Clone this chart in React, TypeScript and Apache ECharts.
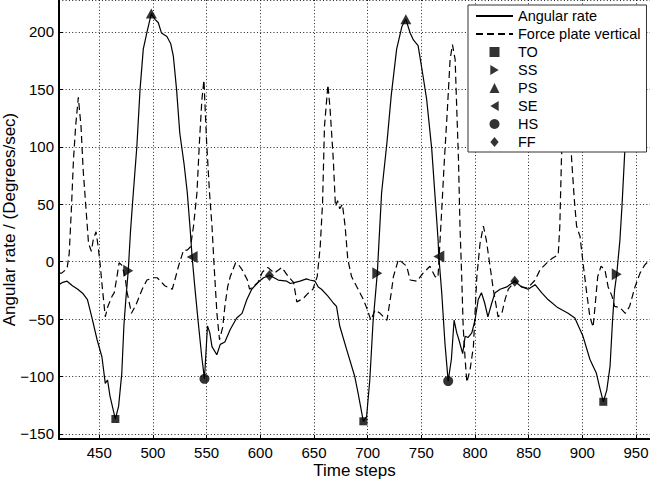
import React, { useEffect, useRef } from "react";
import * as echarts from "echarts";

const FONT = "'Liberation Sans', Arial, Helvetica, sans-serif";

const xRange = [412.5, 963];
const yRange = [-154.4, 227.8];

const angularRate: number[][] = [
  [412.5, -20], [416, -18], [420, -17], [425, -21], [430, -24], [435, -28], [439, -33],
  [443, -48], [448, -68], [452.5, -83], [455.6, -106], [457.7, -103], [460, -117],
  [465, -137], [468, -126], [471, -97], [473, -55], [475, -30], [477, -8], [479, 25],
  [481, 51], [485, 100], [488, 150], [491, 185], [494.5, 200], [498.5, 216], [502, 211],
  [505, 208], [508, 199], [513, 196], [516.5, 190], [519, 179], [522, 150], [525, 112],
  [529, 85], [532, 60], [534.7, 28], [536.5, 4], [539, -22], [542, -51], [545.5, -83],
  [548, -102], [550.8, -56], [553, -62], [555, -74], [559.5, -81], [562.7, -72],
  [567, -70], [572, -59], [578, -49], [583, -45], [587.5, -33], [592, -24], [598, -18],
  [603, -14], [609, -12], [616.7, -16], [624.7, -17], [628, -19], [632.5, -18],
  [637, -17], [643, -15], [646, -16], [651, -17], [654, -22], [657, -24], [663, -30],
  [668, -36], [671, -39], [674, -56], [680.6, -77], [688, -100], [691, -114],
  [694.6, -132], [696, -139], [699, -135], [702, -103], [705, -53], [709, -10],
  [713, 60], [718, 104], [722, 145], [727, 185], [732, 205], [735.6, 211], [739.6, 199],
  [742.6, 193], [747, 188], [751.7, 161], [755, 141], [759.7, 98], [763, 54],
  [765.6, 19], [766.3, 4.5], [769, -27], [772, -71], [775, -104], [778, -85],
  [780.5, -51], [783, -62], [785, -68], [788.5, -80], [790.8, -65], [793.6, -66],
  [797, -62], [800, -51], [803, -33], [806, -27], [809, -36], [812, -48], [815.6, -36],
  [818.7, -27], [823.4, -24], [829.6, -22], [834, -19], [837, -17], [843.5, -22],
  [849.5, -24], [856, -20], [862, -27], [868, -33], [877, -40], [886.7, -45], [893, -49],
  [900.6, -65], [907, -85], [910, -91], [913, -97], [916, -109], [919.5, -122],
  [922.7, -112], [925.8, -91], [928, -53], [930, -25], [932, -11], [935, 19], [937, 50],
  [940, 105], [943, 160], [946, 200], [950, 215],
];

const forcePlate: number[][] = [
  [412.5, -10], [415, -10], [420, -6], [422, 7], [424, 45], [426, 89], [428, 118],
  [430.5, 143], [433, 118], [435, 80], [437.5, 48], [440, 16], [442.6, 9], [444.4, 19],
  [447, 26], [449, 13], [451, -4], [452.8, -22], [455.6, -48], [458, -39], [462, -30],
  [464, -27], [467, -10], [468.5, -1], [471, -3], [474, -13], [476, -27], [480, -45],
  [484, -38], [490, -24], [494.4, -16], [500.6, -14], [504, -14], [507, -17], [511, -21],
  [518, -24], [521, -14], [523.8, -4], [528.5, 10], [532, 10], [535, 13], [537.8, 31],
  [541, 60], [543.3, 104], [545.6, 141], [547.5, 158], [550, 104], [552.7, 60], [555, 31],
  [557, -4], [559.6, -45], [562, -68], [565, -57], [567, -39], [569.6, -22], [572, -13],
  [577, -1], [580, -3], [583, -7], [588, -16], [590, -24], [593, -22], [598, -18],
  [602, -9], [607, -5], [613, -10], [620, -5], [626, -13], [631, -18], [634, -35],
  [640, -32], [644, -28], [649, -24], [653, -13], [655.8, 13], [658, 51], [659.8, 118],
  [663, 154], [665, 133], [668, 89], [670, 48], [672, 53], [674, 46], [676.5, 50],
  [679, 31], [681.5, 2], [685, -13], [690, -22], [696, -33], [699, -40], [703, -51],
  [707, -42], [711.6, -45], [718, -51], [722, -27], [724, -13], [728.7, 2], [736.4, -4],
  [739.6, -16], [745.8, -17], [751.7, -10], [758, -4], [762.8, -13], [765.5, -14],
  [769, 45], [771.5, 89], [774.3, 133], [776.8, 176], [779, 189], [781.5, 176],
  [783, 133], [784.6, 89], [786, 31], [787.6, -13], [789, -57], [790.8, -85],
  [792.4, -105], [795.4, -94], [798.5, -74], [800, -45], [801.7, -13], [804.7, 16],
  [807.8, 31], [810.5, 19], [814, -4], [817, -24], [821.5, -48], [825, -45], [828, -33],
  [831, -24], [834.5, -20], [837, -16], [843.5, -22], [849, -23], [856, -16],
  [860.6, -7], [867, -1], [872, 3], [877.5, 6], [879, 31], [880.5, 89], [882.5, 130],
  [885, 160], [888, 130], [890, 89], [892.5, 54], [894.6, 31], [897.8, 22], [901, -4],
  [904, -27], [907, -48], [910, -57], [911.8, -39], [914.3, -13], [917.4, -4], [921, -7],
  [924, -22], [927.6, -30], [930, -39], [935, -40], [940, -45], [944, -39], [949, -22],
  [953.7, -10], [958, -3], [961, 0], [963, 2],
];

const eventTO: number[][] = [[465, -137], [696, -139], [919.5, -122]];
const eventSS: number[][] = [[477, -8], [709, -10], [932, -11]];
const eventPS: number[][] = [[498.5, 216], [735.6, 211]];
const eventSE: number[][] = [[536.5, 4], [766.3, 4.5]];
const eventHS: number[][] = [[548, -102], [775, -104]];
const eventFF: number[][] = [[608.5, -12], [837, -17]];

const lineNames = ["Angular rate", "Force plate vertical"];
const eventNames = ["TO", "SS", "PS", "SE", "HS", "FF"];

const SQUARE = "path://M0,0H10V10H0Z";
const TRI_RIGHT = "path://M0,0L10,6L0,12Z";
const TRI_UP = "path://M5,0L10,10L0,10Z";
const TRI_LEFT = "path://M10,0L0,6L10,12Z";
const DIAMOND = "path://M5,0L10,6L5,12L0,6Z";

export default function App() {
  const ref = useRef<HTMLDivElement>(null);
  useEffect(() => {
    if (!ref.current) return;
    const chart = echarts.init(ref.current, null, { renderer: "svg" });
    const gridLine = { show: true, lineStyle: { color: "#222", width: 1, type: [1, 2.3] as any } };
    const scatter = (name: string, data: number[][], symbol: string, size: any) => ({
      name,
      type: "scatter",
      data,
      symbol,
      symbolSize: size,
      itemStyle: { color: "#000" },
      z: 5,
      silent: true,
    });
    chart.setOption({
      animation: false,
      backgroundColor: "#fff",
      textStyle: { fontFamily: FONT },
      grid: { left: 59, right: 0, top: 0, bottom: 40, containLabel: false, outerBoundsMode: "none" },
      xAxis: {
        type: "value",
        min: xRange[0],
        max: xRange[1],
        splitNumber: 11,
        name: "Time steps",
        nameLocation: "middle",
        nameGap: 23,
        nameMoveOverlap: false,
        nameTextStyle: { fontSize: 17, color: "#000", fontFamily: FONT },
        axisLine: { show: true, onZero: false, lineStyle: { color: "#000", width: 2 } },
        axisTick: { show: true, inside: true, length: 4, lineStyle: { color: "#000", width: 1 } },
        axisLabel: {
          fontSize: 15, color: "#000", fontFamily: FONT, margin: 6,
          showMinLabel: false, showMaxLabel: false,
        },
        splitLine: gridLine,
      },
      yAxis: {
        type: "value",
        min: yRange[0],
        max: yRange[1],
        splitNumber: 8,
        name: "Angular rate / (Degrees/sec)",
        nameLocation: "middle",
        nameGap: 41,
        nameMoveOverlap: false,
        nameTextStyle: { fontSize: 17, color: "#000", fontFamily: FONT },
        axisLine: { show: true, onZero: false, lineStyle: { color: "#000", width: 2 } },
        axisTick: { show: true, inside: true, length: 4, lineStyle: { color: "#000", width: 1 } },
        axisLabel: {
          fontSize: 15, color: "#000", fontFamily: FONT, margin: 5,
          showMinLabel: false, showMaxLabel: false,
          formatter: (v: number) => String(Math.round(v)).replace("-", "\u2212"),
        },
        splitLine: gridLine,
      },
      legend: {
        orient: "vertical",
        left: 468,
        top: 5,
        align: "left",
        itemWidth: 37,
        itemHeight: 10,
        itemGap: 0,
        padding: [2, 6, 1, 7],
        backgroundColor: "#fff",
        borderColor: "#333",
        borderWidth: 1,
        borderRadius: 0,
        selectedMode: false,
        z: 10,
        textStyle: { fontSize: 14.5, color: "#000", fontFamily: FONT, lineHeight: 18 },
        data: [
          ...lineNames.map((n) => ({ name: n, itemStyle: { color: "rgba(0,0,0,0)", borderWidth: 0, opacity: 0 } })),
          ...eventNames,
        ],
      },
      series: [
        {
          name: lineNames[0],
          type: "line",
          data: angularRate,
          symbol: "none",
          showSymbol: false,
          lineStyle: { color: "#000", width: 1.2, type: "solid" },
          itemStyle: { color: "#000" },
          z: 3,
          silent: true,
        },
        {
          name: lineNames[1],
          type: "line",
          data: forcePlate,
          symbol: "none",
          showSymbol: false,
          lineStyle: { color: "#000", width: 1.2, type: [7, 4] },
          itemStyle: { color: "#000" },
          z: 3,
          silent: true,
        },
        scatter("TO", eventTO, SQUARE, [8, 8]),
        scatter("SS", eventSS, TRI_RIGHT, [10, 12]),
        scatter("PS", eventPS, TRI_UP, [11, 10]),
        scatter("SE", eventSE, TRI_LEFT, [11, 12]),
        scatter("HS", eventHS, "circle", 10),
        scatter("FF", eventFF, DIAMOND, [9, 11]),
      ],
    });
    return () => chart.dispose();
  }, []);
  return (
    <div
      ref={ref}
      style={{ position: "fixed", left: 0, top: 0, width: 650, height: 479, background: "#fff" }}
    />
  );
}
